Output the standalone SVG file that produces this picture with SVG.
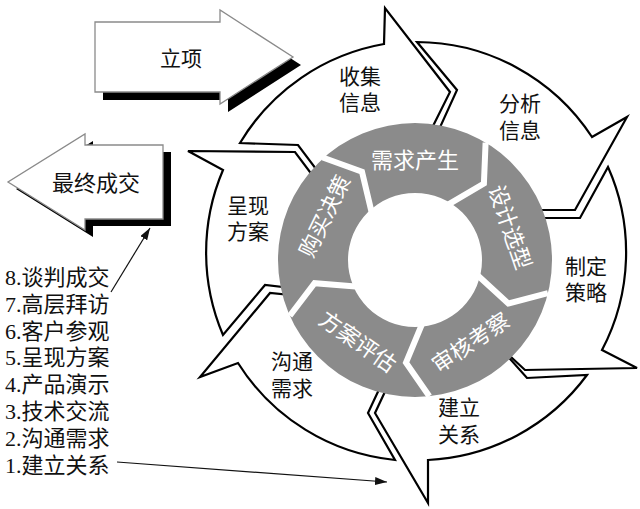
<svg xmlns="http://www.w3.org/2000/svg" width="640" height="509" viewBox="0 0 640 509">
<style>
  .seg { fill: #ffffff; stroke: #000000; stroke-width: 2.2; stroke-linejoin: miter; }
  .blk { fill: #ffffff; stroke: #8a8a8a; stroke-width: 1.3; }
  .shd { fill: #000000; }
  .t { font-family: "Liberation Serif", "Noto Sans CJK SC", serif; fill: #111111; }
  .lbl { font-size: 21px; text-anchor: middle; }
  .rt { font-family: "Liberation Serif", "Noto Sans CJK SC", serif; font-size: 22px; fill: #ffffff; text-anchor: middle; dominant-baseline: central; }
  .gap { fill: none; stroke: #ffffff; stroke-width: 6; stroke-linejoin: miter; stroke-linecap: butt; }
  .con { fill: none; stroke: #111111; stroke-width: 1.2; }
</style>
<defs>
  <marker id="ah" markerUnits="userSpaceOnUse" markerWidth="12" markerHeight="8" refX="12" refY="4" orient="auto">
    <path d="M0,0 L12,4 L0,8 Z" fill="#111111"/>
  </marker>
</defs>
<rect width="640" height="509" fill="#ffffff"/>

<g id="node-lixiang">
  <path class="shd" transform="translate(8,8)" d="M95,22 H220 V10 L293,57 L220,104 V92 H95 Z"/>
  <path class="blk" d="M95,22 H220 V10 L293,57 L220,104 V92 H95 Z"/>
  <text class="t" x="181" y="65.5" font-size="21" text-anchor="middle">立项</text>
</g>

<g id="node-zuizhongchengjiao">
  <path class="shd" transform="translate(8,7)" d="M163,145 H85 V134 L8,182 L85,230 V219 H163 Z"/>
  <path class="blk" d="M163,145 H85 V134 L8,182 L85,230 V219 H163 Z"/>
  <text class="t" x="96" y="191" font-size="22" text-anchor="middle">最终成交</text>
</g>

<g id="node-shouji">
  <path class="seg" d="M240,143 A210,210 0 0 1 384,44 L385,8 L450,92 L428,136 A117,117 0 0 0 325,181 L298,145 Z"/>
  <text class="t lbl" x="360" y="83.5">收集</text>
  <text class="t lbl" x="360" y="109.5">信息</text>
</g>
<g id="node-fenxi">
  <path class="seg" d="M417,42 A210,210 0 0 1 592,137 L627,117 L575,210 L530,210 A120,120 0 0 0 436,136 L457,90 Z"/>
  <text class="t lbl" x="520" y="110.5">分析</text>
  <text class="t lbl" x="520" y="137.5">信息</text>
</g>
<g id="node-zhiding">
  <path class="seg" d="M608,167 A210,210 0 0 1 602,350 L637,368 L525,370 L500,347 A122,122 0 0 0 530,218 L580,218 Z"/>
  <text class="t lbl" x="586" y="273.5">制定</text>
  <text class="t lbl" x="586" y="299.5">策略</text>
</g>
<g id="node-jianli">
  <path class="seg" d="M587,375 A210,210 0 0 1 428,460 L428,503 L375,413 L390,381 A122,122 0 0 0 502,350 L527,378 Z"/>
  <text class="t lbl" x="459" y="414.5">建立</text>
  <text class="t lbl" x="459" y="441.5">关系</text>
</g>
<g id="node-goutong">
  <path class="seg" d="M395,460 A210,210 0 0 1 238,363 L200,377 L270,293 L300,296 A120,120 0 0 0 383,381 L368,413 Z"/>
  <text class="t lbl" x="292" y="368.5">沟通</text>
  <text class="t lbl" x="292" y="395.5">需求</text>
</g>
<g id="node-chengxian">
  <path class="seg" d="M223,335 A210,210 0 0 1 223,170 L188,151 L295,152 L322,188 A118,118 0 0 0 300,289 L265,285 Z"/>
  <text class="t lbl" x="248" y="212.5">呈现</text>
  <text class="t lbl" x="248" y="238.5">方案</text>
</g>

<g id="inner-ring">
  <path fill="#8b8b8b" fill-rule="evenodd" d="M278,260 a137,137 0 1 0 274,0 a137,137 0 1 0 -274,0 Z M348,260 a67,67 0 1 0 134,0 a67,67 0 1 0 -134,0 Z"/>
  <polyline class="gap" points="322.7,157.5 362,171.7 371.5,211.7"/>
  <polyline class="gap" points="485.6,142.6 483.9,183.5 448.5,204.3"/>
  <polyline class="gap" points="547.9,293.1 508.3,303.5 478.1,275.7"/>
  <polyline class="gap" points="429.3,396.2 406,362.6 421.8,324.6"/>
  <polyline class="gap" points="289.8,315.7 314.6,283.2 355.6,286.4"/>
</g>
<g id="node-xuqiuchansheng"><text class="rt" x="415" y="160">需求产生</text></g>
<g id="node-shejixuanxing"><text class="rt" x="509.6" y="227.4" transform="rotate(71 509.6 227.4)">设计选型</text></g>
<g id="node-shenhekaocha"><text class="rt" x="470.9" y="342.9" transform="rotate(-34 470.9 342.9)">审核考察</text></g>
<g id="node-fanganpinggu"><text class="rt" x="357.6" y="341.9" transform="rotate(35 357.6 341.9)">方案评估</text></g>
<g id="node-goumaijuece"><text class="rt" x="325.1" y="216.2" transform="rotate(-64 325.1 216.2)">购买决策</text></g>

<g id="node-steps" class="t" font-size="22">
  <text x="5" y="285">8.谈判成交</text>
  <text x="5" y="311.8">7.高层拜访</text>
  <text x="5" y="338.6">6.客户参观</text>
  <text x="5" y="365.4">5.呈现方案</text>
  <text x="5" y="392.2">4.产品演示</text>
  <text x="5" y="419">3.技术交流</text>
  <text x="5" y="445.8">2.沟通需求</text>
  <text x="5" y="472.6">1.建立关系</text>
</g>

<g id="connectors">
  <line class="con" x1="111" y1="292" x2="150" y2="228" marker-end="url(#ah)"/>
  <line class="con" x1="117" y1="462" x2="387" y2="482" marker-end="url(#ah)"/>
</g>
</svg>
